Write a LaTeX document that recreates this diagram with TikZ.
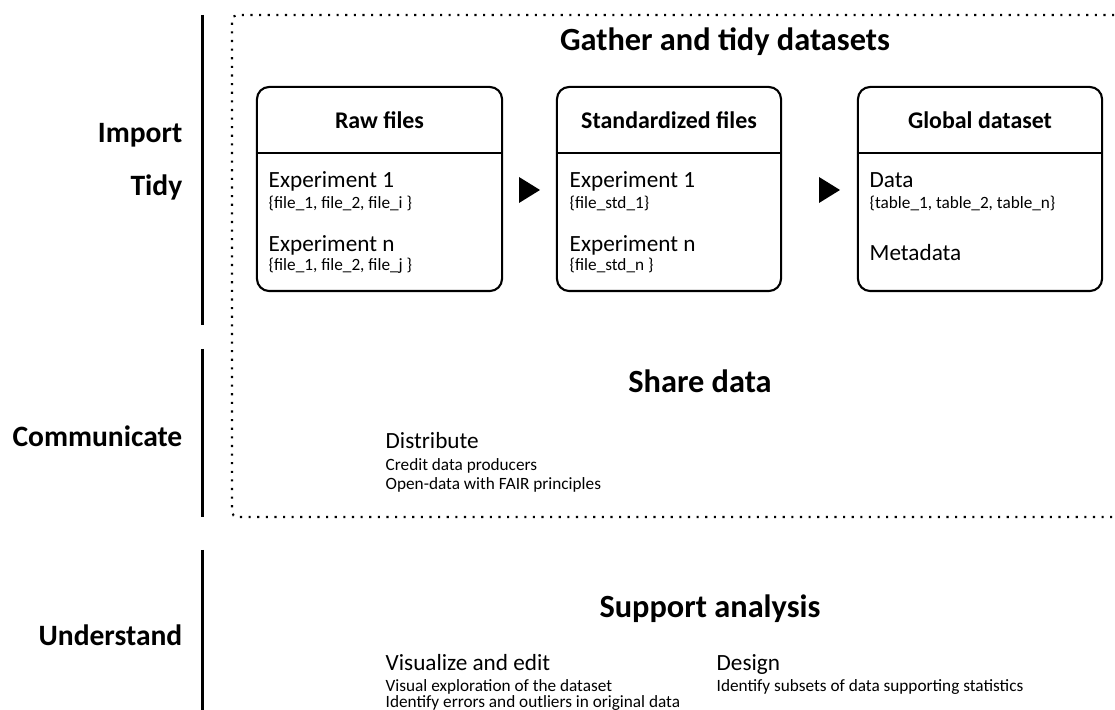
\documentclass[tikz,border=0pt]{standalone}
\usepackage{fontspec}
\setmainfont{Carlito}
\usetikzlibrary{positioning}

\tikzset{
  phase/.style={font=\bfseries\fontsize{8.4}{10}\selectfont, anchor=base east, inner sep=0pt},
  phasebar/.style={line width=1pt},
  zone/.style={line width=0.6pt, dash pattern=on 0.6pt off 1.85pt, rounded corners=1.5pt},
  title/.style={font=\bfseries\fontsize{9.2}{11}\selectfont, anchor=base, inner sep=0pt},
  card/.style={draw, line width=0.6pt, rounded corners=3.5pt, minimum height=2.04cm, inner sep=0pt},
  cardhead/.style={font=\bfseries\fontsize{6.8}{8}\selectfont, anchor=base, inner sep=0pt},
  item/.style={font=\fontsize{6.6}{8}\selectfont, anchor=base west, inner sep=0pt},
  detail/.style={font=\fontsize{4.9}{6}\selectfont, anchor=base west, inner sep=0pt},
  flowtip/.style={fill=black}
}

\begin{document}
\begin{tikzpicture}[x=0.01cm, y=-0.01cm]
\useasboundingbox (0,0) rectangle (1115,710);

% phases on the left
\node[phase] (import) at (183,143) {Import};
\node[phase] (tidy) at (183,196) {Tidy};
\node[phase] (communicate) at (183,447) {Communicate};
\node[phase] (understand) at (183,646) {Understand};

\draw[phasebar] (202.5,15) -- (202.5,325);
\draw[phasebar] (202.5,349) -- (202.5,517);
\draw[phasebar] (202.5,550) -- (202.5,710);

% dotted zone around import/tidy/communicate
\draw[zone] (1140,15) -- (232,15) -- (232,517) -- (1140,517);

\node[title] (gather) at (725,51) {Gather and tidy datasets};

% the three stages
\node[card, minimum width=2.45cm] (raw) at (379.5,189) {};
\node[card, minimum width=2.24cm] (std) at (669,189) {};
\node[card, minimum width=2.44cm] (glob) at (980,189) {};

\foreach \c in {raw,std,glob}
  \draw[line width=0.6pt] ([yshift=-0.67cm]\c.north west) -- ([yshift=-0.67cm]\c.north east);

\node[cardhead] (rawhead) at (raw.north |- 0,129) {Raw files};
\node[cardhead] (stdhead) at (std.north |- 0,129) {Standardized files};
\node[cardhead] (globhead) at (glob.north |- 0,129) {Global dataset};

\fill[flowtip] (519,177) -- (540,190) -- (519,203) -- cycle;
\fill[flowtip] (819,177) -- (840,190) -- (819,203) -- cycle;

\node[item] (rawexp1) at (268,188) {Experiment 1};
\node[detail] (rawfiles1) at (268,209) {\{file\_1, file\_2, file\_i \}};
\node[item] (rawexpn) at (268,252) {Experiment n};
\node[detail] (rawfilesn) at (268,271) {\{file\_1, file\_2, file\_j \}};

\node[item] (stdexp1) at (569,188) {Experiment 1};
\node[detail] (stdfiles1) at (569,209) {\{file\_std\_1\}};
\node[item] (stdexpn) at (569,252) {Experiment n};
\node[detail] (stdfilesn) at (569,271) {\{file\_std\_n \}};

\node[item] (data) at (869,188) {Data};
\node[detail] (tables) at (869,209) {\{table\_1, table\_2, table\_n\}};
\node[item] (meta) at (869,261) {Metadata};

% sharing
\node[title] (share) at (700,393) {Share data};
\node[item] (distribute) at (385,449) {Distribute};
\node[detail] (credit) at (385,471) {Credit data producers};
\node[detail] (fair) at (385,490) {Open-data with FAIR principles};

% analysis
\node[title] (support) at (710,618) {Support analysis};
\node[item] (visual) at (385,671) {Visualize and edit};
\node[detail] (explore) at (385,692) {Visual exploration of the dataset};
\node[detail] (errors) at (385,708) {Identify errors and outliers in original data};
\node[item] (design) at (716,671) {Design};
\node[detail] (subsets) at (716,692) {Identify subsets of data supporting statistics};
\end{tikzpicture}
\end{document}
